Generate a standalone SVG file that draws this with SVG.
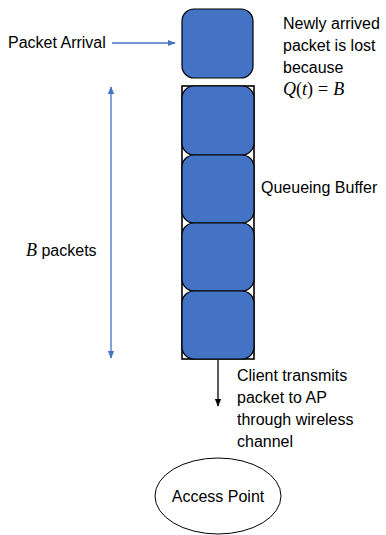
<svg xmlns="http://www.w3.org/2000/svg" width="386" height="535" viewBox="0 0 386 535">
<style>
.t{font-family:"Liberation Sans",Arial,sans-serif;font-size:16px;fill:#000}
.m{font-family:"Liberation Serif","DejaVu Serif",serif;font-size:18px;fill:#000}
.pk{fill:#4472C4;stroke:#000;stroke-width:1.2}
.blue{stroke:#4472C4;stroke-width:1.3;fill:none}
</style>
<defs>
<marker id="ab" viewBox="0 0 10 10" refX="9" refY="5" markerWidth="6" markerHeight="6" orient="auto-start-reverse"><path d="M0,1 L10,5 L0,9 z" fill="#4472C4"/></marker>
<marker id="ak" viewBox="0 0 10 10" refX="9" refY="5" markerWidth="6" markerHeight="6" orient="auto"><path d="M0,1 L10,5 L0,9 z" fill="#000"/></marker>
</defs>
<g id="incoming">
<rect class="pk" x="182" y="9" width="71" height="69" rx="12"/>
</g>
<g id="buffer">
<rect x="182" y="86" width="72" height="273" fill="#fff" stroke="#000" stroke-width="1.6"/>
<rect class="pk" x="182" y="86" width="72" height="69" rx="12"/>
<rect class="pk" x="182" y="155" width="72" height="68" rx="12"/>
<rect class="pk" x="182" y="223" width="72" height="68" rx="12"/>
<rect class="pk" x="182" y="291" width="72" height="68" rx="12"/>
</g>
<g id="ap">
<ellipse cx="218" cy="496" rx="63" ry="38" fill="#fff" stroke="#000" stroke-width="1"/>
<text class="t" x="218" y="502" text-anchor="middle">Access Point</text>
</g>
<g id="connectors">
<line class="blue" x1="112" y1="43" x2="175" y2="43" marker-end="url(#ab)"/>
<line class="blue" x1="111" y1="87" x2="111" y2="358" marker-start="url(#ab)" marker-end="url(#ab)"/>
<line x1="218" y1="360" x2="218" y2="406" stroke="#000" stroke-width="1.3" marker-end="url(#ak)"/>
</g>
<g id="labels">
<text class="t" x="8" y="48">Packet Arrival</text>
<text class="t" x="283" y="29">Newly arrived</text>
<text class="t" x="283" y="51">packet is lost</text>
<text class="t" x="283" y="73">because</text>
<text class="m" x="283" y="95"><tspan font-style="italic">Q</tspan>(<tspan font-style="italic">t</tspan>)<tspan dx="5">=</tspan><tspan dx="5" font-style="italic">B</tspan></text>
<text class="t" x="261" y="193">Queueing Buffer</text>
<text class="t" x="26" y="256"><tspan class="m" font-style="italic">B</tspan> packets</text>
<text class="t" x="237" y="381">Client transmits</text>
<text class="t" x="237" y="403">packet to AP</text>
<text class="t" x="237" y="425">through wireless</text>
<text class="t" x="237" y="447">channel</text>
</g>
</svg>
